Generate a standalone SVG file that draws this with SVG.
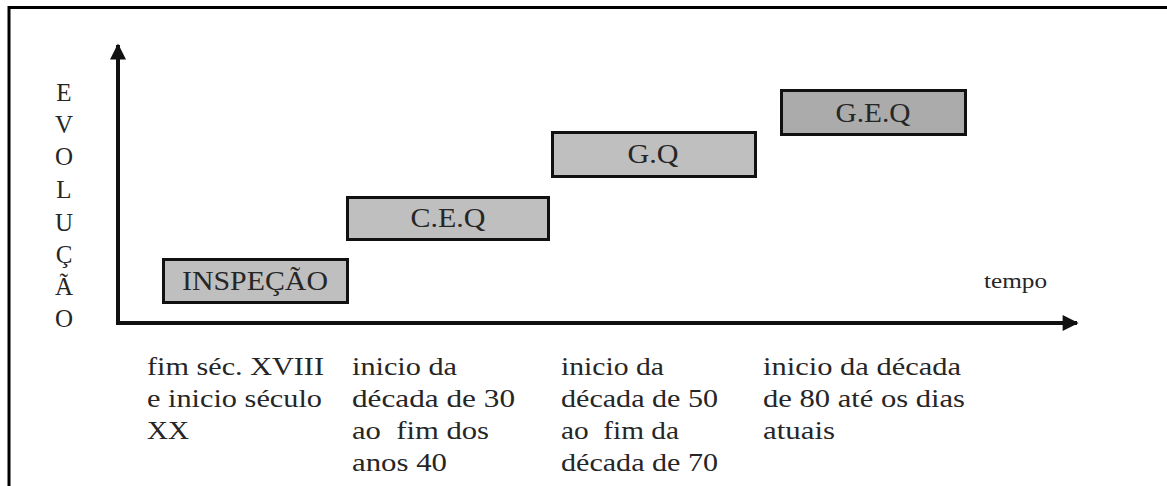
<svg xmlns="http://www.w3.org/2000/svg" width="1167" height="486" viewBox="0 0 1167 486" font-family="'Liberation Serif', 'DejaVu Serif', serif">
  <style>
    text { font-family: "Liberation Serif", "DejaVu Serif", serif; fill: #262626; }
    .box { fill: #bfbfbf; stroke: #111; stroke-width: 3; }
    .box.dark { fill: #ababab; }
    .lbl { font-size: 27px; text-anchor: middle; }
    .axis-letter { font-size: 25px; text-anchor: middle; }
    .period { font-size: 25px; }
    .axis { stroke: #111; stroke-width: 4; fill: none; }
    .frame { stroke: #000; stroke-width: 3; fill: none; }
  </style>
  <defs>
    <marker id="head" viewBox="0 0 10 10" refX="9" refY="5" markerWidth="4.2" markerHeight="4" markerUnits="strokeWidth" orient="auto">
      <path d="M0,0 L10,5 L0,10 z" fill="#111"/>
    </marker>
  </defs>

  <rect width="1167" height="486" fill="#fff"/>

  <!-- page frame: top and left edges -->
  <path class="frame" d="M9,486 V7.5 H1167"/>

  <!-- axes -->
  <g id="connectors">
    <path class="axis" d="M118,323 V45" marker-end="url(#head)"/>
    <path class="axis" d="M116,323 H1077" marker-end="url(#head)"/>
  </g>

  <!-- vertical axis caption -->
  <g id="axis-y-label">
    <text class="axis-letter" x="64" y="101">E</text>
    <text class="axis-letter" x="64" y="133">V</text>
    <text class="axis-letter" x="64" y="165">O</text>
    <text class="axis-letter" x="64" y="198">L</text>
    <text class="axis-letter" x="64" y="231">U</text>
    <text class="axis-letter" x="64" y="263">Ç</text>
    <text class="axis-letter" x="64" y="295">Ã</text>
    <text class="axis-letter" x="64" y="327">O</text>
  </g>

  <g id="axis-x-label">
    <text x="984" y="288" font-size="20" textLength="63" lengthAdjust="spacingAndGlyphs">tempo</text>
  </g>

  <!-- stages -->
  <g id="inspecao">
    <rect class="box" x="163.5" y="259.5" width="184" height="43"/>
    <text class="lbl" x="255" y="290" textLength="146" lengthAdjust="spacingAndGlyphs">INSPEÇÃO</text>
  </g>
  <g id="ceq">
    <rect class="box" x="347.5" y="197.5" width="201" height="42"/>
    <text class="lbl" x="448" y="227" textLength="75" lengthAdjust="spacingAndGlyphs">C.E.Q</text>
  </g>
  <g id="gq">
    <rect class="box" x="552.5" y="132.5" width="203" height="44"/>
    <text class="lbl" x="653" y="163" textLength="51" lengthAdjust="spacingAndGlyphs">G.Q</text>
  </g>
  <g id="geq">
    <rect class="box dark" x="781.5" y="90.5" width="184" height="44"/>
    <text class="lbl" x="873" y="122" textLength="75" lengthAdjust="spacingAndGlyphs">G.E.Q</text>
  </g>

  <!-- period captions under the time axis -->
  <g id="period-1">
    <text class="period" x="147" y="375" textLength="177" lengthAdjust="spacingAndGlyphs">fim séc. XVIII</text>
    <text class="period" x="147" y="407" textLength="175" lengthAdjust="spacingAndGlyphs">e inicio século</text>
    <text class="period" x="147" y="439" textLength="42" lengthAdjust="spacingAndGlyphs">XX</text>
  </g>
  <g id="period-2">
    <text class="period" x="352" y="375" textLength="105" lengthAdjust="spacingAndGlyphs">inicio da</text>
    <text class="period" x="352" y="407" textLength="163" lengthAdjust="spacingAndGlyphs">década de 30</text>
    <text class="period" x="352" y="439" textLength="137" lengthAdjust="spacingAndGlyphs" xml:space="preserve">ao  fim dos</text>
    <text class="period" x="352" y="471" textLength="95" lengthAdjust="spacingAndGlyphs">anos 40</text>
  </g>
  <g id="period-3">
    <text class="period" x="561" y="375" textLength="103" lengthAdjust="spacingAndGlyphs">inicio da</text>
    <text class="period" x="561" y="407" textLength="157" lengthAdjust="spacingAndGlyphs">década de 50</text>
    <text class="period" x="561" y="439" textLength="118" lengthAdjust="spacingAndGlyphs" xml:space="preserve">ao  fim da</text>
    <text class="period" x="561" y="471" textLength="157" lengthAdjust="spacingAndGlyphs">década de 70</text>
  </g>
  <g id="period-4">
    <text class="period" x="763" y="375" textLength="198" lengthAdjust="spacingAndGlyphs">inicio da década</text>
    <text class="period" x="763" y="407" textLength="202" lengthAdjust="spacingAndGlyphs">de 80 até os dias</text>
    <text class="period" x="763" y="439" textLength="72" lengthAdjust="spacingAndGlyphs">atuais</text>
  </g>
</svg>
